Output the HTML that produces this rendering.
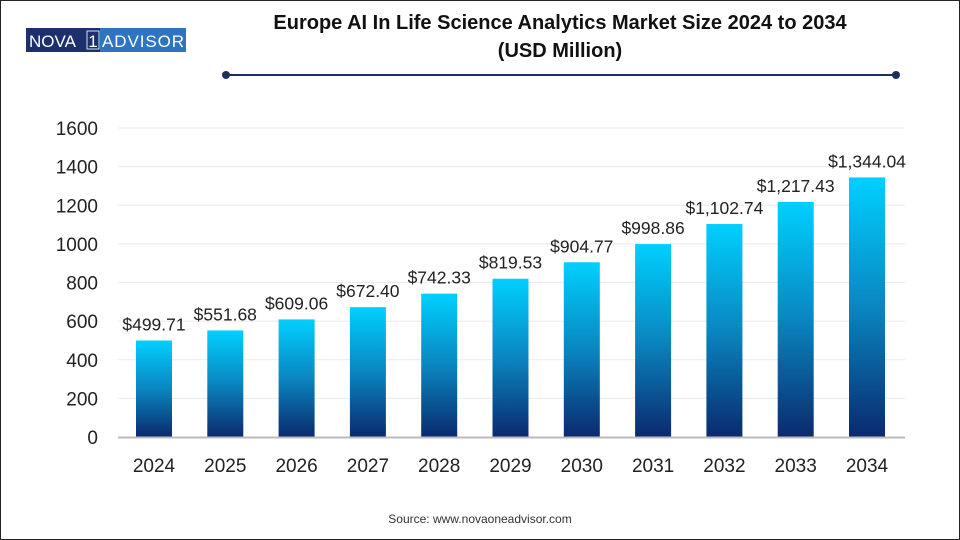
<!DOCTYPE html>
<html><head><meta charset="utf-8"><style>
html,body{margin:0;padding:0;background:#fff}
#wrap{position:relative;width:960px;height:540px;overflow:hidden;font-family:"Liberation Sans",Arial,sans-serif}
</style></head><body>
<div id="wrap">
<svg id="chart" width="960" height="540">
<defs><linearGradient id="bg" x1="0" y1="0" x2="0" y2="1">
<stop offset="0" stop-color="#00d0ff"/><stop offset="0.5" stop-color="#0a86c0"/><stop offset="1" stop-color="#0a2a6e"/></linearGradient></defs>
<rect x="0.5" y="0.5" width="959" height="539" fill="none" stroke="#222"/>
<g>
<rect x="26" y="28" width="74" height="24" fill="#1e2f6e"/>
<rect x="100" y="28" width="86" height="24" fill="#2f74c0"/>
<rect x="87" y="31" width="12" height="18" fill="none" stroke="#cfe0f5" stroke-width="1"/>
<text x="29" y="47" font-size="17" fill="#fff">NOVA</text>
<text x="93" y="47" font-size="17" fill="#fff" text-anchor="middle">1</text>
<text x="102" y="47" font-size="17" fill="#fff" textLength="82">ADVISOR</text>
</g>
<text x="560" y="29" text-anchor="middle" font-size="20" font-weight="bold" fill="#111">Europe AI In Life Science Analytics Market Size 2024 to 2034</text>
<text x="560" y="57" text-anchor="middle" font-size="20" font-weight="bold" fill="#111">(USD Million)</text>
<line x1="226" y1="75" x2="896" y2="75" stroke="#1e2f5e" stroke-width="2"/>
<circle cx="226" cy="75" r="4" fill="#1e2f5e"/>
<circle cx="896" cy="75" r="4" fill="#1e2f5e"/>
<g id="grid"></g><g id="bars"></g><g id="labels"></g>
<text x="480" y="523" text-anchor="middle" font-size="12" fill="#333">Source: www.novaoneadvisor.com</text>
</svg>
<script>
const categories=["2024","2025","2026","2027","2028","2029","2030","2031","2032","2033","2034"];
const values=[499.71,551.68,609.06,672.40,742.33,819.53,904.77,998.86,1102.74,1217.43,1344.04];
const valueLabels=["$499.71","$551.68","$609.06","$672.40","$742.33","$819.53","$904.77","$998.86","$1,102.74","$1,217.43","$1,344.04"];
const yTicks=[0,200,400,600,800,1000,1200,1400,1600];
const NS="http://www.w3.org/2000/svg";
const y0=437,y1=128,yMax=1600,xLeft=118,xRight=905,barW=36;
function yS(v){return y0-(v/yMax)*(y0-y1);}
function xS(i){return 154+i*(867-154)/(categories.length-1);}
function mk(t,a,p){const e=document.createElementNS(NS,t);for(const k in a)e.setAttribute(k,a[k]);p.appendChild(e);return e;}
const grid=document.getElementById('grid'),bars=document.getElementById('bars'),labels=document.getElementById('labels');
yTicks.forEach(t=>{
 if(t>0){const g=mk('line',{x1:xLeft,x2:xRight,y1:yS(t),y2:yS(t),stroke:'#ebebeb','stroke-width':1},grid);
 
 }
 const l=mk('text',{x:98,y:yS(t)+7,'text-anchor':'end','font-size':19,fill:'#222'},grid);l.textContent=t;
 
 
});
categories.forEach((c,i)=>{
 const x=xS(i),v=values[i];
 const r=mk('rect',{x:x-barW/2,y:yS(v),width:barW,height:y0-yS(v),fill:'url(#bg)'},bars);
 
 
 const vl=mk('text',{x:x,y:yS(v)-10,'text-anchor':'middle','font-size':17.5,fill:'#222'},labels);vl.textContent=valueLabels[i];
 
 
 const xl=mk('text',{x:x,y:472,'text-anchor':'middle','font-size':19,fill:'#222'},labels);xl.textContent=c;
 
 
});
const ax=mk('line',{x1:xLeft,x2:xRight,y1:y0+0.5,y2:y0+0.5,stroke:'#bbb','stroke-width':2},labels);


</script>
</div>
</body></html>
